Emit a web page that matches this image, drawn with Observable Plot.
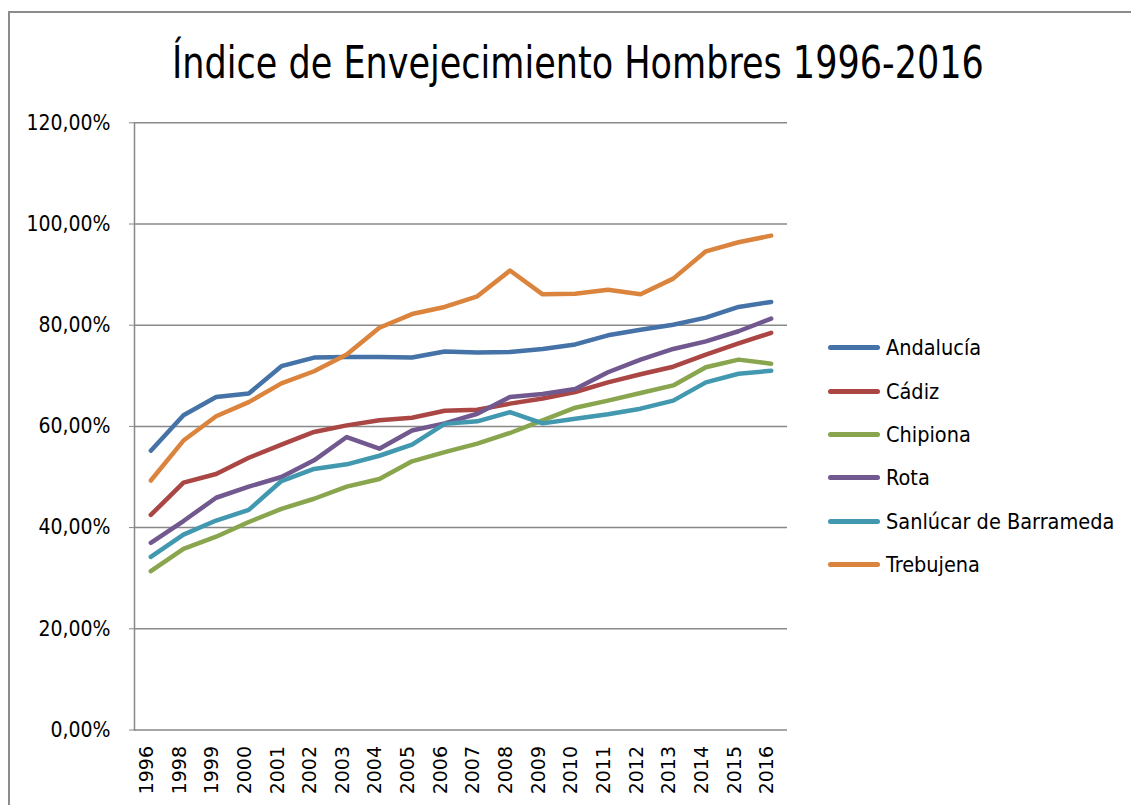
<!DOCTYPE html>
<html>
<head>
<meta charset="utf-8">
<script src="https://cdn.jsdelivr.net/npm/d3@7"></script>
<script src="https://cdn.jsdelivr.net/npm/@observablehq/plot@0.6"></script>
<style>
  html, body { margin: 0; padding: 0; background: #fff; }
  #wrap { position: relative; width: 1131px; height: 805px; overflow: hidden; }
  #border { position: absolute; left: 8px; top: 11px; width: 1200px; height: 900px; border: 2px solid #8c8c8c; box-sizing: border-box; }
  #title { position: absolute; left: 172px; top: 33px; white-space: nowrap; transform: scaleX(0.885); transform-origin: left top;
           font-family: "DejaVu Sans Condensed", "Liberation Sans Narrow", sans-serif; font-size: 44px; line-height: 60px; color: #000; }
  #chart { position: absolute; left: 0; top: 105px; }
  #legend { position: absolute; left: 828px; top: 326px; font-family: "DejaVu Sans Condensed", "Liberation Sans Narrow", sans-serif; font-size: 21.5px; color: #000; }
  .item { height: 43.4px; display: flex; align-items: center; white-space: nowrap; }
  .swatch { width: 52px; height: 5px; border-radius: 3px; margin-right: 6px; flex: none; }
</style>
</head>
<body>
<div id="wrap">
  <div id="border"></div>
  <div id="title">Índice de Envejecimiento Hombres 1996-2016</div>
  <div id="chart"></div>
  <div id="legend"></div>
</div>
<script>
const years = ["1996","1998","1999","2000","2001","2002","2003","2004","2005","2006","2007","2008","2009","2010","2011","2012","2013","2014","2015","2016"];
const seriesNames = ["Andalucía","Cádiz","Chipiona","Rota","Sanlúcar de Barrameda","Trebujena"];
const colors = ["#4572A7","#AA4643","#89A54E","#71588F","#4198AF","#DB843D"];
const yTicks = [0,20,40,60,80,100,120];

const andalucia = [55.2,62.2,65.8,66.5,71.9,73.6,73.7,73.7,73.6,74.8,74.6,74.7,75.3,76.2,78.0,79.1,80.1,81.5,83.6,84.6];
const cadiz     = [42.5,48.9,50.6,53.8,56.4,58.9,60.2,61.2,61.7,63.1,63.3,64.5,65.5,66.8,68.7,70.3,71.8,74.2,76.4,78.5];
const chipiona  = [31.4,35.8,38.2,41.1,43.7,45.7,48.1,49.6,53.1,54.9,56.6,58.7,61.2,63.7,65.1,66.6,68.1,71.7,73.2,72.4];
const rota      = [37.0,41.3,45.9,48.1,50.0,53.3,57.9,55.6,59.2,60.6,62.5,65.8,66.4,67.4,70.7,73.2,75.3,76.8,78.8,81.3];
const sanlucar  = [34.2,38.6,41.4,43.5,49.2,51.6,52.5,54.2,56.4,60.5,61.0,62.8,60.6,61.5,62.4,63.5,65.1,68.7,70.4,71.0];
const trebujena = [49.3,57.2,62.0,64.8,68.5,70.9,74.2,79.5,82.2,83.6,85.7,90.8,86.1,86.2,87.0,86.1,89.2,94.6,96.4,97.7];

const allValues = [andalucia, cadiz, chipiona, rota, sanlucar, trebujena];
const data = [];
seriesNames.forEach((s, i) => {
  years.forEach((y, j) => data.push({series: s, year: y, value: allValues[i][j]}));
});

const fmt = d => d.toFixed(2).replace(".", ",") + "%";

const chart = Plot.plot({
  width: 1131,
  height: 700,
  marginLeft: 134,
  marginRight: 344,
  marginTop: 17.3,
  marginBottom: 75.5,
  style: {background: "transparent", fontFamily: "DejaVu Sans, sans-serif", fontSize: "19px", color: "#000"},
  x: {type: "point", domain: years, padding: 0.5, round: false, label: null},
  y: {domain: [0, 120], label: null},
  color: {domain: seriesNames, range: colors},
  marks: [
    Plot.ruleY(yTicks.filter(d => d > 0), {stroke: "#888", strokeWidth: 1.5}),
    Plot.ruleY([0], {stroke: "#888", strokeWidth: 1.5}),
    Plot.frame({anchor: "left", stroke: "#888", strokeWidth: 1.5}),
    Plot.axisY({ticks: yTicks, tickFormat: fmt, tickSize: 5, tickPadding: 19, stroke: "#888", fontSize: 21, fontFamily: "DejaVu Sans Condensed, sans-serif", label: null}),
    Plot.axisX({tickRotate: -90, tickSize: 0, tickPadding: 16, dx: -4, fontSize: 19, label: null}),
    Plot.line(data, {x: "year", y: "value", z: "series", stroke: "series", strokeWidth: 4.5, strokeLinecap: "round", strokeLinejoin: "round"})
  ]
});
document.getElementById("chart").appendChild(chart);

const legend = document.getElementById("legend");
seriesNames.forEach((s, i) => {
  const item = document.createElement("div");
  item.className = "item";
  const sw = document.createElement("div");
  sw.className = "swatch";
  sw.style.background = colors[i];
  const t = document.createElement("span");
  t.textContent = s;
  item.appendChild(sw);
  item.appendChild(t);
  legend.appendChild(item);
});
</script>
</body>
</html>
